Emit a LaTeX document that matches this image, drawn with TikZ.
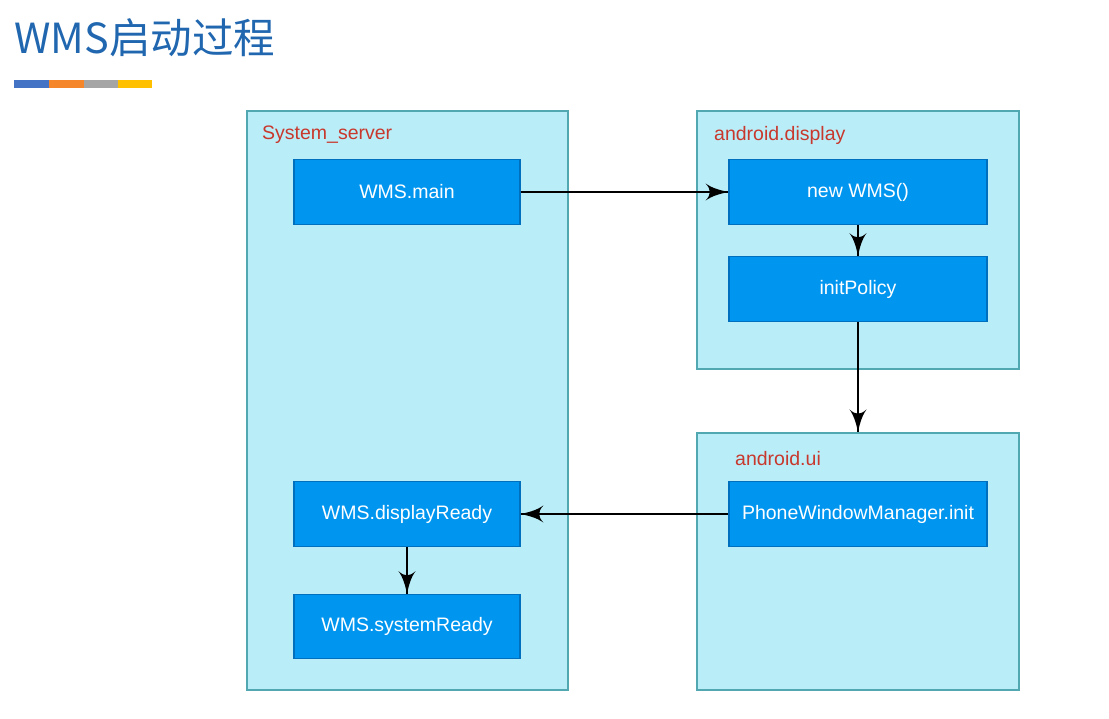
\documentclass[tikz,border=0pt]{standalone}
\usepackage{fontspec}
\setmainfont{Liberation Sans}
\newfontfamily\cjk{Noto Sans CJK SC}
\usepackage{tikz}
\usetikzlibrary{arrows}
\usetikzlibrary{decorations.markings}
\definecolor{titleblue}{HTML}{2067B0}
\definecolor{barblue}{HTML}{4472C4}
\definecolor{barorange}{HTML}{F5872A}
\definecolor{bargray}{HTML}{A5A5A5}
\definecolor{baryellow}{HTML}{FFC000}
\definecolor{lanefill}{HTML}{B9EDF8}
\definecolor{laneedge}{HTML}{52A8B0}
\definecolor{boxfill}{HTML}{0096F0}
\definecolor{boxedge}{HTML}{0070BE}
\definecolor{lanered}{HTML}{C8382C}
\tikzset{flow/.style = {line width=1.6pt,
                        decoration={markings,
                                    mark=at position 1 with {\arrow[scale=3]{latex'}}},
                        postaction={decorate}}}
\tikzset{lane/.style = {draw=laneedge, fill=lanefill, line width=1.6pt, inner sep=0pt},
         lanelabel/.style = {anchor=west, inner sep=0pt, text=lanered,
                             font=\fontsize{19.5}{23}\selectfont},
         callbox/.style = {draw=boxedge, fill=boxfill, line width=1.2pt, text=white,
                           minimum height=65pt, font=\fontsize{19.5}{23}\selectfont}}

\begin{document}
\begin{tikzpicture}[x=1pt, y=-1pt]
    \useasboundingbox [fill=white] (0, 0) rectangle (1109, 718);

    % title and colour bar
    \node [anchor=base west, inner sep=0pt, text=titleblue,
           font=\cjk\fontsize{41.5}{46}\selectfont] (title) at (14, 53) {WMS启动过程};
    \fill [barblue] (14, 80) rectangle (49, 88);
    \fill [barorange] (49, 80) rectangle (84, 88);
    \fill [bargray] (84, 80) rectangle (118, 88);
    \fill [baryellow] (118, 80) rectangle (152, 88);

    % threads
    \node [lane, minimum width=321pt, minimum height=579pt] (sysserver) at (407.5, 400.5) {};
    \node [lane, minimum width=322pt, minimum height=258pt] (display) at (858, 240) {};
    \node [lane, minimum width=322pt, minimum height=257pt] (ui) at (858, 561.5) {};
    \node [lanelabel] (sysserverlabel) at (262, 135) {System\_server};
    \node [lanelabel] (displaylabel) at (714, 135) {android.display};
    \node [lanelabel] (uilabel) at (735, 459) {android.ui};

    % calls
    \node [callbox, minimum width=226pt] (wmsmain) at (407, 192) {WMS.main};
    \node [callbox, minimum width=258pt] (newwms) at (858, 192) {new WMS()};
    \node [callbox, minimum width=258pt] (initpolicy) at (858, 289) {initPolicy};
    \node [callbox, minimum width=258pt] (pwminit) at (858, 514) {PhoneWindowManager.init};
    \node [callbox, minimum width=226pt] (displayready) at (407, 514) {WMS.displayReady};
    \node [callbox, minimum width=226pt, minimum height=64pt] (systemready) at (407, 626.5) {WMS.systemReady};

    \draw [flow] (wmsmain.east) -- (newwms.west);
    \draw [flow] (newwms.south) -- (initpolicy.north);
    \draw [flow] (initpolicy.south) -- (ui.north);
    \draw [flow] (pwminit.west) -- (displayready.east);
    \draw [flow] (displayready.south) -- (systemready.north);
  \end{tikzpicture}
\end{document}
